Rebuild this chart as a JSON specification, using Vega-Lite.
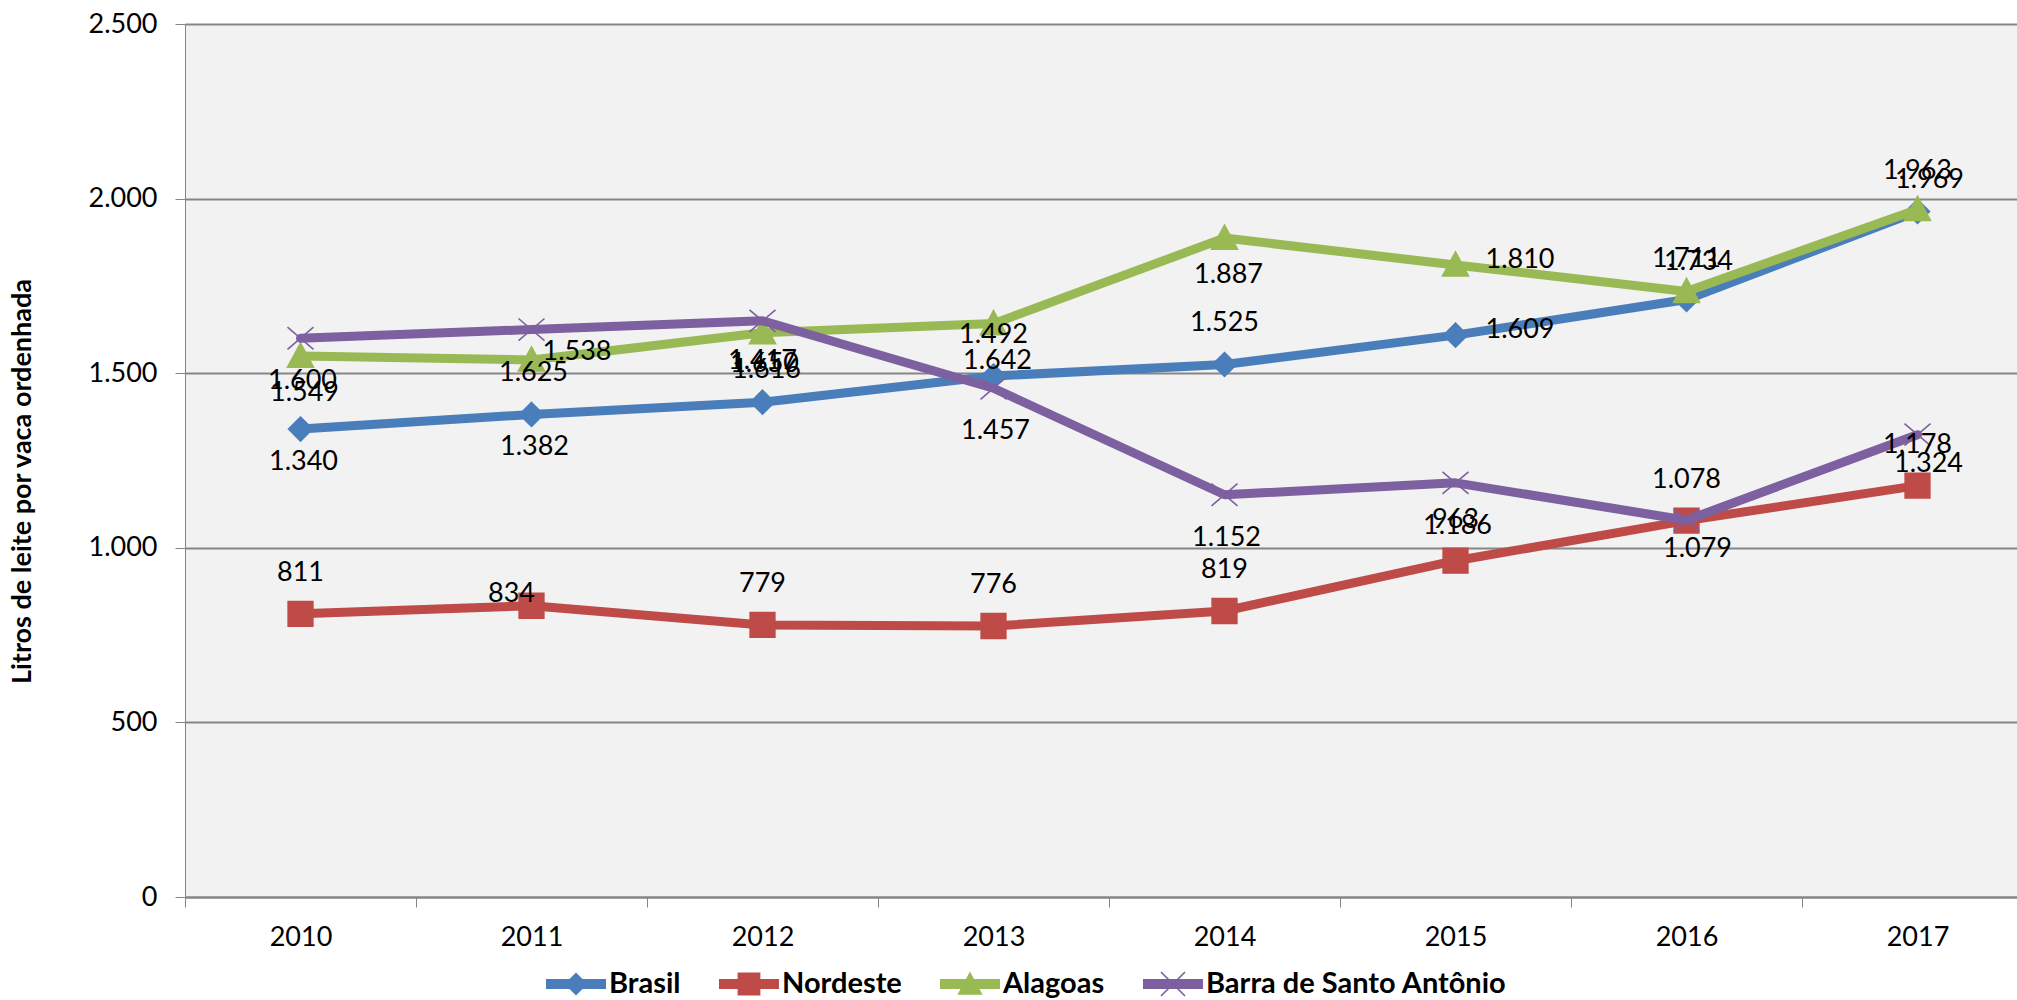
{
  "$schema": "https://vega.github.io/schema/vega-lite/v6.json",
  "width": 1832,
  "height": 873,
  "autosize": {"type": "none"},
  "padding": {"left": 185, "top": 24, "right": 0, "bottom": 103},
  "background": "white",
  "config": {
    "locale": {"number": {"decimal": ",", "thousands": ".", "grouping": [3], "currency": ["R$", ""]}},
    "view": {"fill": "#F2F2F2", "stroke": null},
    "font": "Lato",
    "text": {"font": "Lato", "fontSize": 27, "color": "#000000"},
    "line": {"strokeWidth": 9, "strokeJoin": "round", "strokeCap": "round"},
    "point": {"filled": true, "size": 676, "strokeWidth": 1.6, "opacity": 1}
  },
  "data": {"values": [
    {"year": 2010, "series": "Brasil", "value": 1340},
    {"year": 2011, "series": "Brasil", "value": 1382},
    {"year": 2012, "series": "Brasil", "value": 1417},
    {"year": 2013, "series": "Brasil", "value": 1492},
    {"year": 2014, "series": "Brasil", "value": 1525},
    {"year": 2015, "series": "Brasil", "value": 1609},
    {"year": 2016, "series": "Brasil", "value": 1711},
    {"year": 2017, "series": "Brasil", "value": 1963},
    {"year": 2010, "series": "Nordeste", "value": 811},
    {"year": 2011, "series": "Nordeste", "value": 834},
    {"year": 2012, "series": "Nordeste", "value": 779},
    {"year": 2013, "series": "Nordeste", "value": 776},
    {"year": 2014, "series": "Nordeste", "value": 819},
    {"year": 2015, "series": "Nordeste", "value": 963},
    {"year": 2016, "series": "Nordeste", "value": 1078},
    {"year": 2017, "series": "Nordeste", "value": 1178},
    {"year": 2010, "series": "Alagoas", "value": 1549},
    {"year": 2011, "series": "Alagoas", "value": 1538},
    {"year": 2012, "series": "Alagoas", "value": 1616},
    {"year": 2013, "series": "Alagoas", "value": 1642},
    {"year": 2014, "series": "Alagoas", "value": 1887},
    {"year": 2015, "series": "Alagoas", "value": 1810},
    {"year": 2016, "series": "Alagoas", "value": 1734},
    {"year": 2017, "series": "Alagoas", "value": 1969},
    {"year": 2010, "series": "Barra de Santo Antônio", "value": 1600},
    {"year": 2011, "series": "Barra de Santo Antônio", "value": 1625},
    {"year": 2012, "series": "Barra de Santo Antônio", "value": 1650},
    {"year": 2013, "series": "Barra de Santo Antônio", "value": 1457},
    {"year": 2014, "series": "Barra de Santo Antônio", "value": 1152},
    {"year": 2015, "series": "Barra de Santo Antônio", "value": 1186},
    {"year": 2016, "series": "Barra de Santo Antônio", "value": 1079},
    {"year": 2017, "series": "Barra de Santo Antônio", "value": 1324}
  ]},
  "encoding": {
    "x": {
      "field": "year", "type": "ordinal",
      "scale": {"type": "band", "range": [0, 1848], "paddingInner": 0, "paddingOuter": 0},
      "axis": {"title": null, "tickBand": "extent", "labelAngle": 0, "labelFont": "Lato", "labelFontSize": 27, "labelColor": "#000000", "labelPadding": 17, "tickSize": 10, "tickColor": "#868686", "tickWidth": 1, "domainColor": "#868686", "domainWidth": 2, "grid": false}
    },
    "y": {
      "field": "value", "type": "quantitative",
      "scale": {"domain": [0, 2500], "nice": false, "zero": true},
      "axis": {"values": [0, 500, 1000, 1500, 2000, 2500], "format": ",d", "title": "Litros de leite por vaca ordenhada",
        "grid": true, "gridColor": "#868686", "gridWidth": 2, "domainColor": "#868686", "domainWidth": 1,
        "tickColor": "#868686", "tickSize": 10, "labelFont": "Lato", "labelFontSize": 27, "labelColor": "#000000", "labelPadding": 18,
        "titleFont": "Lato", "titleFontSize": 27, "titleFontWeight": "bold", "titleColor": "#000000",
        "titleAngle": -90, "titleX": -163, "titleY": 457, "titleAlign": "center", "titleBaseline": "middle"}
    }
  },
  "layer": [
    {
      "transform": [{"filter": "datum.series == 'Brasil'"}],
      "mark": {"type": "line", "stroke": "#4A7EBB"}
    },
    {
      "transform": [{"filter": "datum.series == 'Brasil'"}],
      "mark": {"type": "point", "shape": "M0,-0.92L0.92,0L0,0.92L-0.92,0Z", "fill": "#4A7EBB", "stroke": "#4A7EBB"}
    },
    {
      "transform": [{"filter": "datum.series == 'Nordeste'"}],
      "mark": {"type": "line", "stroke": "#BE4B48"}
    },
    {
      "transform": [{"filter": "datum.series == 'Nordeste'"}],
      "mark": {"type": "point", "shape": "M-0.95,-0.95H0.95V0.95H-0.95Z", "fill": "#BE4B48", "stroke": "#BE4B48"}
    },
    {
      "transform": [{"filter": "datum.series == 'Alagoas'"}],
      "mark": {"type": "line", "stroke": "#98B954"}
    },
    {
      "transform": [{"filter": "datum.series == 'Alagoas'"}],
      "mark": {"type": "point", "shape": "M0,-1L1,0.85H-1Z", "fill": "#98B954", "stroke": "#98B954"}
    },
    {
      "transform": [{"filter": "datum.series == 'Barra de Santo Antônio'"}],
      "mark": {"type": "line", "stroke": "#7D60A0"}
    },
    {
      "transform": [{"filter": "datum.series == 'Barra de Santo Antônio'"}],
      "mark": {"type": "point", "shape": "M-1,-0.85L1,0.85M-1,0.85L1,-0.85", "fill": "#7D60A0", "stroke": "#7D60A0"}
    },
    {
      "transform": [{"filter": "(datum.series == 'Brasil' && indexof([2012, 2013, 2014, 2016, 2017], datum.year) >= 0) || (datum.series == 'Nordeste' && datum.year != 2011)"}],
      "mark": {"type": "text", "dy": -41, "baseline": "middle", "align": "center"},
      "encoding": {"text": {"field": "value", "type": "quantitative", "format": ",d"}}
    },
    {
      "transform": [{"filter": "datum.series == 'Alagoas' && datum.year >= 2016"}],
      "mark": {"type": "text", "dy": -29, "dx": 12, "baseline": "middle", "align": "center"},
      "encoding": {"text": {"field": "value", "type": "quantitative", "format": ",d"}}
    },
    {
      "transform": [{"filter": "datum.series == 'Brasil' && datum.year <= 2011"}],
      "mark": {"type": "text", "dy": 33, "dx": 3, "baseline": "middle", "align": "center"},
      "encoding": {"text": {"field": "value", "type": "quantitative", "format": ",d"}}
    },
    {
      "transform": [{"filter": "datum.series == 'Alagoas' && indexof([2010, 2012, 2013, 2014], datum.year) >= 0"}],
      "mark": {"type": "text", "dy": 37, "dx": 4, "baseline": "middle", "align": "center"},
      "encoding": {"text": {"field": "value", "type": "quantitative", "format": ",d"}}
    },
    {
      "transform": [{"filter": "datum.series == 'Barra de Santo Antônio' && datum.year <= 2015"}],
      "mark": {"type": "text", "dy": 43, "dx": 2, "baseline": "middle", "align": "center"},
      "encoding": {"text": {"field": "value", "type": "quantitative", "format": ",d"}}
    },
    {
      "transform": [{"filter": "datum.series == 'Barra de Santo Antônio' && datum.year >= 2016"}],
      "mark": {"type": "text", "dy": 29, "dx": 11, "baseline": "middle", "align": "center"},
      "encoding": {"text": {"field": "value", "type": "quantitative", "format": ",d"}}
    },
    {
      "transform": [{"filter": "(datum.series == 'Brasil' || datum.series == 'Alagoas') && datum.year == 2015"}],
      "mark": {"type": "text", "dy": -5, "dx": 30, "baseline": "middle", "align": "left"},
      "encoding": {"text": {"field": "value", "type": "quantitative", "format": ",d"}}
    },
    {
      "transform": [{"filter": "datum.series == 'Alagoas' && datum.year == 2011"}],
      "mark": {"type": "text", "dy": -8, "dx": 11, "baseline": "middle", "align": "left"},
      "encoding": {"text": {"field": "value", "type": "quantitative", "format": ",d"}}
    },
    {
      "transform": [{"filter": "datum.series == 'Nordeste' && datum.year == 2011"}],
      "mark": {"type": "text", "dy": -12, "dx": -20, "baseline": "middle", "align": "center"},
      "encoding": {"text": {"field": "value", "type": "quantitative", "format": ",d"}}
    },
    {
      "mark": {"type": "point", "filled": true, "opacity": 0, "size": 10, "strokeWidth": 0},
      "encoding": {
        "color": {"field": "series", "type": "nominal",
          "scale": {"domain": ["Brasil", "Nordeste", "Alagoas", "Barra de Santo Antônio"], "range": ["#4A7EBB", "#BE4B48", "#98B954", "#7D60A0"]},
          "legend": {"orient": "none", "legendX": 360, "legendY": 929, "direction": "horizontal", "title": null,
            "labelFont": "Lato", "labelFontSize": 29, "labelFontWeight": "bold", "labelColor": "#000000",
            "symbolSize": 3600, "symbolOpacity": 1, "symbolStrokeWidth": 0, "labelOffset": 2, "columnPadding": 37, "labelLimit": 0}},
        "shape": {"field": "series", "type": "nominal",
          "scale": {"domain": ["Brasil", "Nordeste", "Alagoas", "Barra de Santo Antônio"],
            "range": [
              "M-1,-0.17H1V0.17H-1Z M0,-0.38L0.38,0L0,0.38L-0.38,0Z",
              "M-1,-0.17H1V0.17H-1Z M-0.38,-0.38H0.38V0.38H-0.38Z",
              "M-1,-0.17H1V0.17H-1Z M0,-0.42L0.42,0.36H-0.42Z",
              "M-1,-0.17H1V0.17H-1Z M-0.42,-0.38L-0.38,-0.42L0.42,0.38L0.38,0.42Z M0.38,-0.42L0.42,-0.38L-0.38,0.42L-0.42,0.38Z"
            ]},
          "legend": {"orient": "none", "legendX": 360, "legendY": 929, "direction": "horizontal", "title": null,
            "labelFont": "Lato", "labelFontSize": 29, "labelFontWeight": "bold", "labelColor": "#000000",
            "symbolSize": 3600, "symbolOpacity": 1, "symbolStrokeWidth": 0, "labelOffset": 2, "columnPadding": 37, "labelLimit": 0}}
      }
    }
  ]
}
